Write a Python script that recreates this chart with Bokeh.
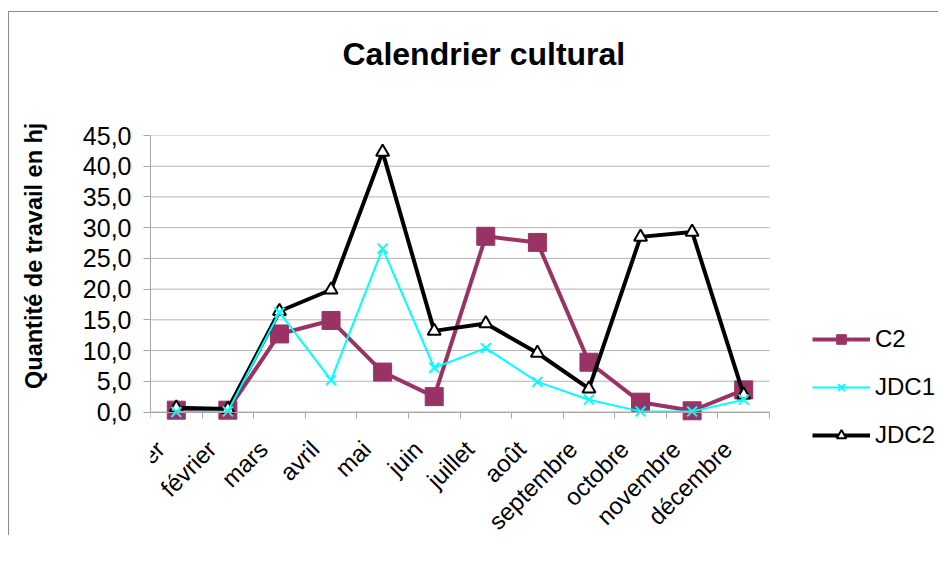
import math
import numpy as np
from bokeh.plotting import figure
from bokeh.core.properties import value
from bokeh.models import (FixedTicker, CustomJSTickFormatter, Legend, LegendItem,
                          Range1d, Title, LinearAxis, LabelSet, ColumnDataSource)
from bokeh.embed import file_html
from bokeh.resources import INLINE

# ---- data ----
months = ["janvier", "février", "mars", "avril", "mai", "juin", "juillet",
          "août", "septembre", "octobre", "novembre", "décembre"]
c2 = [0.3, 0.3, 12.7, 14.9, 6.5, 2.5, 28.6, 27.6, 8.1, 1.6, 0.2, 3.6]
jdc1 = [0.0, 0.1, 16.2, 5.2, 26.6, 7.2, 10.4, 4.9, 2.0, 0.1, 0.1, 2.0]
jdc2 = [0.7, 0.5, 16.4, 19.9, 42.3, 13.2, 14.4, 9.6, 3.8, 28.5, 29.3, 2.8]
y_ticks = [0, 5, 10, 15, 20, 25, 30, 35, 40, 45]
series_names = ["C2", "JDC1", "JDC2"]
title_text = "Calendrier cultural"
y_label = "Quantité de travail en hj"

# ---- style / layout constants ----
FONT = "Liberation Sans"
GRAY = "#a6a6a6"
GRID = "#b3b3b3"
C2_COLOR, JDC1_COLOR, JDC2_COLOR = "#993366", "#00FFFF", "black"
PLOT_W, PLOT_H = 619.0, 276.5      # visible chart area (px)
FRAME_W, FRAME_H = 788, 400        # drawing frame, extended to hold legend & labels
EXTRA_H = FRAME_H - PLOT_H

n = len(months)
x = np.arange(n) + 0.5           # category centres
label_pos = np.arange(n) + 0.19  # month labels sit slightly left of centre (Excel style)
y_top = y_ticks[-1]
y_bottom = y_top - (y_top - y_ticks[0]) * FRAME_H / PLOT_H


def spacer_axis(size, tick):
    """An invisible axis used only to reserve space in a side panel."""
    return LinearAxis(ticker=FixedTicker(ticks=[tick]),
                      formatter=CustomJSTickFormatter(code="return ''"),
                      axis_line_color=None, major_tick_in=0, major_tick_out=size,
                      minor_tick_in=0, minor_tick_out=0, major_tick_line_color=None,
                      minor_tick_line_color=None, major_label_standoff=0,
                      major_label_text_font_size="1px")


p = figure(frame_width=FRAME_W, frame_height=FRAME_H, output_backend="svg",
           toolbar_location=None, title=None,
           x_range=Range1d(0, n * FRAME_W / PLOT_W), y_range=Range1d(y_bottom, y_top),
           min_border_left=141, min_border_right=0, min_border_top=123,
           min_border_bottom=0)
p.styles = {"margin-left": "8px", "margin-top": "11px",
            "border-left": "1px solid #8c8c8c", "border-top": "1px solid #8c8c8c"}
p.outline_line_color = None
p.background_fill_color = "white"
p.border_fill_color = "white"
p.xgrid.visible = False
p.ygrid.visible = False

# title (above, with an invisible spacer between it and the plot area)
p.add_layout(spacer_axis(64, 1.0), "above")
p.add_layout(Title(text=title_text, align="left", vertical_align="bottom",
                   offset=192, standoff=0, text_font=FONT, text_font_size="32px",
                   text_font_style="bold", text_color="black"), "above")

# x axis: drawn at y = 0, ticks between categories
xa = p.below[0]
xa.fixed_location = 0
xa.bounds = (0, n)
xa.ticker = FixedTicker(ticks=[], minor_ticks=list(np.arange(n + 1)))
xa.major_label_standoff = 0
xa.major_tick_in = 0
xa.major_tick_out = 0
xa.minor_tick_in = 0
xa.minor_tick_out = 6
xa.minor_tick_line_color = GRAY
xa.axis_line_color = GRAY

# month labels (rotated, below the axis)
labels_src = ColumnDataSource(dict(x=label_pos, y=[0] * n, text=months))
p.add_layout(LabelSet(x="x", y="y", text="text", source=labels_src,
                      angle=math.pi / 4, text_align="right", text_baseline="middle",
                      y_offset=-33, text_font=value(FONT), text_font_size="24px",
                      text_color="black"))

# y axis
ya = p.left[0]
ya.bounds = (y_ticks[0], y_ticks[-1])
ya.ticker = FixedTicker(ticks=y_ticks)
ya.formatter = CustomJSTickFormatter(code="return tick.toFixed(1).replace('.', ',')")
ya.major_label_text_font = FONT
ya.major_label_text_font_size = "25px"
ya.major_label_text_color = "black"
ya.major_label_standoff = 12
ya.major_tick_in = 0
ya.major_tick_out = 7
ya.major_tick_line_color = GRAY
ya.minor_tick_line_color = None
ya.axis_line_color = GRAY

# y axis title, placed as a side title beyond an invisible spacer
p.add_layout(spacer_axis(33, 10.0), "left")
p.add_layout(Title(text=y_label, align="left", vertical_align="bottom",
                   offset=23 + EXTRA_H, standoff=0, text_font=FONT,
                   text_font_size="23.5px", text_font_style="bold",
                   text_color="black"), "left")

# horizontal gridlines over the category span only
p.segment(x0=[0] * len(y_ticks), x1=[n] * len(y_ticks), y0=y_ticks, y1=y_ticks,
          line_color=GRID, line_width=1)

# series
r_c2 = [p.line(x, c2, line_color=C2_COLOR, line_width=4),
        p.scatter(x, c2, marker="square", size=18, fill_color=C2_COLOR,
                  line_color=C2_COLOR)]
r_j2 = [p.line(x, jdc2, line_color=JDC2_COLOR, line_width=4),
        p.scatter(x, jdc2, marker="triangle", size=13, fill_color="white",
                  line_color=JDC2_COLOR, line_width=2)]
r_j1 = [p.line(x, jdc1, line_color=JDC1_COLOR, line_width=2),
        p.scatter(x, jdc1, marker="x", size=14, line_color=JDC1_COLOR, line_width=2)]

legend = Legend(items=[LegendItem(label=name, renderers=rs)
                       for name, rs in zip(series_names, [r_c2, r_j1, r_j2])],
                location=(662, EXTRA_H - 37))
legend.border_line_color = None
legend.background_fill_alpha = 0
legend.padding = 0
legend.margin = 0
legend.glyph_width = 58
legend.glyph_height = 24
legend.label_height = 24
legend.spacing = 20
legend.label_standoff = 5
legend.label_text_font = FONT
legend.label_text_font_size = "24px"
legend.label_text_color = "black"
p.add_layout(legend)

open("out.html", "w").write(file_html(p, INLINE))
